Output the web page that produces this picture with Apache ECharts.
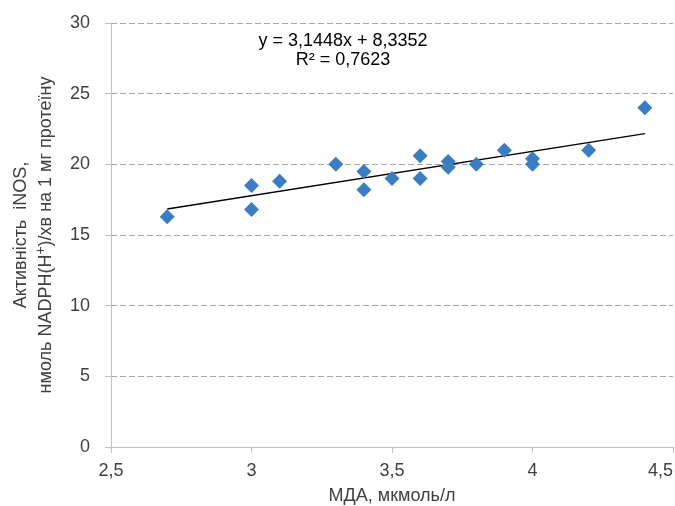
<!DOCTYPE html>
<html>
<head>
<meta charset="utf-8">
<script src="https://cdn.jsdelivr.net/npm/echarts@6/dist/echarts.min.js"></script>
<style>html,body{margin:0;padding:0;background:#fff;}#c{width:675px;height:506px;}</style>
</head>
<body>
<div id="c"></div>
<script>
// МДА, мкмоль/л
var mdaValues = [2.7, 3.0, 3.0, 3.1, 3.3, 3.4, 3.4, 3.5, 3.6, 3.6, 3.7, 3.7, 3.8, 3.9, 4.0, 4.0, 4.2, 4.4];
// iNOS activity
var inosValues = [16.3, 18.5, 16.8, 18.8, 20.0, 19.5, 18.2, 19.0, 20.6, 19.0, 20.2, 19.8, 20.0, 21.0, 20.4, 20.0, 21.0, 24.0];
// linear trendline end points (x, y)
var trendX = [2.7, 4.4];
var trendY = [16.84, 22.17];
var xTicks = ['2,5', '3', '3,5', '4', '4,5'];
var equationText = 'y = 3,1448x + 8,3352';
var r2Text = 'R² = 0,7623';

var points = mdaValues.map(function (x, i) { return [x, inosValues[i]]; });
var trend = trendX.map(function (x, i) { return [x, trendY[i]]; });

var chart = echarts.init(document.getElementById('c'), null, { renderer: 'canvas' });
var font = 'Liberation Sans, Arial, sans-serif';
var FS = 18;
chart.setOption({
  animation: false,
  textStyle: { fontFamily: font },
  grid: { left: 111, right: 2, top: 23, bottom: 59, outerBoundsMode: 'none', containLabel: false },
  xAxis: {
    type: 'value', min: 2.5, max: 4.5, interval: 0.5,
    name: 'МДА, мкмоль/л', nameLocation: 'middle', nameGap: 40,
    nameTextStyle: { fontSize: FS, color: '#404040', fontFamily: font },
    axisLine: { show: true, lineStyle: { color: '#bfbfbf', width: 1 } },
    axisTick: { show: true, length: 6, lineStyle: { color: '#bfbfbf' } },
    axisLabel: { fontSize: FS, color: '#404040', margin: 15, fontFamily: font, alignMaxLabel: 'right',
      formatter: function (v) { var i = Math.round((v - 2.5) / 0.5); return xTicks[i] !== undefined ? xTicks[i] : String(v); } },
    splitLine: { show: false }
  },
  yAxis: {
    type: 'value', min: 0, max: 30, interval: 5,
    name: '{a|Активність  iNOS,}\n{a|нмоль NADPH(H}{s|+}{a|)/хв на 1 мг протеїну}',
    nameLocation: 'middle', nameGap: 52, nameRotate: 90,
    nameTextStyle: {
      fontFamily: font, color: '#404040', align: 'center',
      rich: {
        a: { fontSize: FS, lineHeight: 25, color: '#404040', fontFamily: font },
        s: { fontSize: 14, lineHeight: 13, verticalAlign: 'top', color: '#404040', fontFamily: font }
      }
    },
    axisLine: { show: true, lineStyle: { color: '#bfbfbf', width: 1 } },
    axisTick: { show: true, length: 6, lineStyle: { color: '#bfbfbf' } },
    axisLabel: { fontSize: FS, color: '#404040', margin: 21, fontFamily: font },
    splitLine: { show: true, lineStyle: { color: '#a6a6a6', type: [6, 3], width: 1 } }
  },
  graphic: [
    { type: 'text', x: 343, y: 41, style: { text: equationText, fontSize: FS, fill: '#000', fontFamily: font, align: 'center', verticalAlign: 'middle' } },
    { type: 'text', x: 343, y: 60, style: { text: r2Text, fontSize: FS, fill: '#000', fontFamily: font, align: 'center', verticalAlign: 'middle' } }
  ],
  series: [
    {
      type: 'scatter', data: points, symbol: 'diamond', symbolSize: 15,
      itemStyle: { color: '#3b7dc0', opacity: 1 }, z: 3
    },
    {
      type: 'line', data: trend, showSymbol: false, symbol: 'none',
      lineStyle: { color: '#000', width: 1.3 }, z: 2
    }
  ]
});
</script>
</body>
</html>
